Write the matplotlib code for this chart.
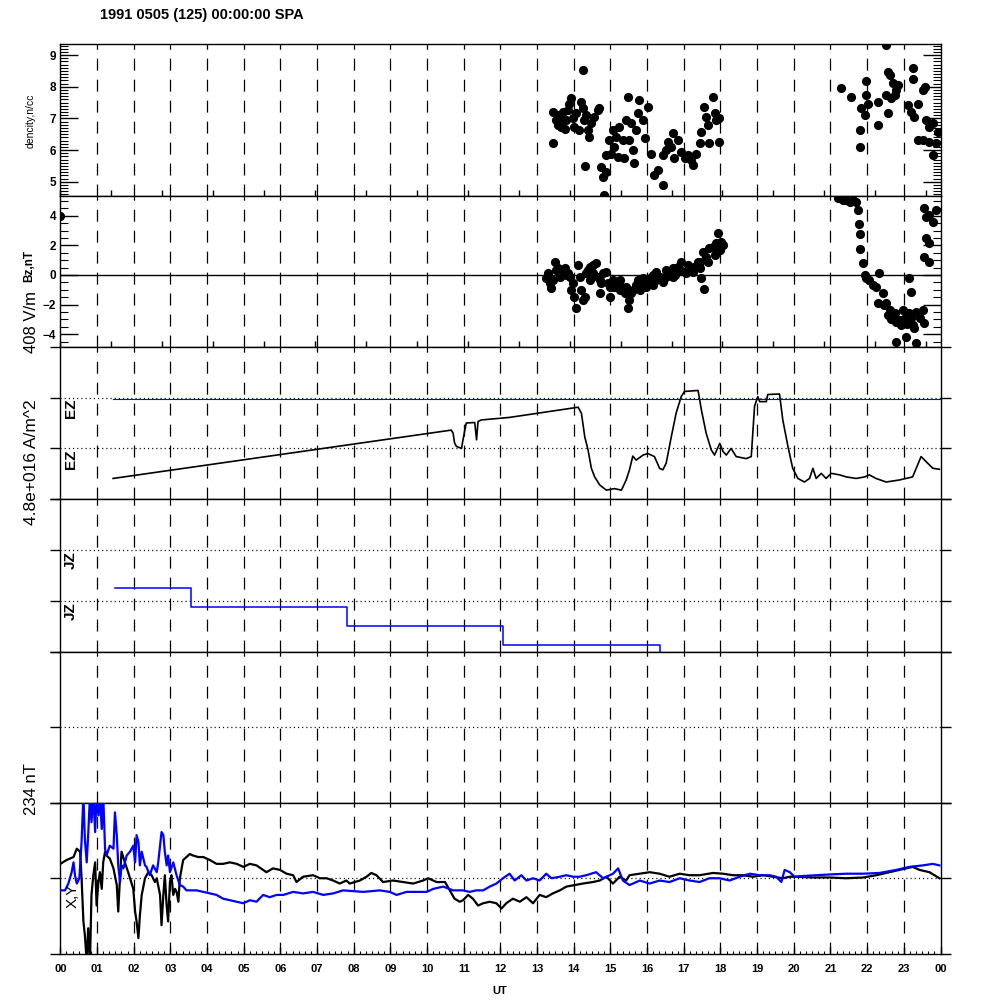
import matplotlib
matplotlib.use("Agg")
import matplotlib.pyplot as plt
from matplotlib.ticker import MultipleLocator, FixedLocator

plt.rcParams['font.family'] = ['Liberation Sans', 'DejaVu Sans']
plt.rcParams['lines.scale_dashes'] = False

# ---------------- data ----------------
title = "1991 0505 (125) 00:00:00 SPA"
hour_labels = ["00", "01", "02", "03", "04", "05", "06", "07", "08", "09", "10", "11",
               "12", "13", "14", "15", "16", "17", "18", "19", "20", "21", "22", "23", "00"]
hour_grid = list(range(1, 24))

dens_t = [13.43, 13.43, 13.52, 13.61, 13.66, 13.70, 13.79, 13.84, 13.88, 13.93,
          13.97, 14.02, 14.06, 14.15, 14.20, 14.24, 14.24, 14.29, 14.31, 14.34,
          14.38, 14.42, 14.47, 14.56, 14.65, 14.70, 13.56, 13.75, 13.66,
          14.74, 14.79, 14.83, 14.88, 14.88, 14.97, 15.01, 15.06, 15.10, 15.15,
          15.20, 15.24, 15.33, 15.38, 15.42, 15.47, 15.51, 15.56, 15.61, 15.65,
          15.70, 15.74, 15.79, 15.88, 15.93, 16.02, 16.11, 16.20, 16.29, 16.43,
          16.43, 16.52, 16.56, 16.65, 16.70, 16.74, 16.84, 16.93, 17.02, 17.11,
          17.20, 17.25, 17.34, 17.43, 17.47, 17.56, 17.61, 17.65, 17.70, 17.79,
          17.84, 17.88, 17.97, 17.97,
          21.30, 21.57, 21.80, 21.80, 21.84, 21.93, 21.98, 21.98, 22.02, 22.29,
          22.29, 22.52, 22.57, 22.57, 22.61, 22.52, 22.66, 22.70, 22.75, 22.79,
          22.84, 23.25, 23.25, 23.11, 23.20, 23.29, 23.38, 23.52, 23.57, 23.61,
          23.70, 23.79, 23.38, 23.52, 23.70, 23.79, 23.88, 23.93]
dens_v = [6.21, 7.21, 6.95, 7.10, 6.74, 7.21, 6.95, 7.26, 7.47, 7.63,
          7.00, 6.74, 7.16, 6.63, 7.53, 7.32, 8.53, 6.95, 5.49, 7.10,
          6.63, 6.42, 6.84, 7.05, 7.26, 7.32, 6.79, 6.68, 7.00,
          5.47, 5.16, 4.58, 5.32, 5.84, 6.32, 5.89, 6.63, 6.10, 6.42,
          5.79, 6.74, 6.32, 5.74, 6.95, 7.68, 6.32, 6.84, 6.00, 5.58,
          6.63, 7.16, 7.58, 6.95, 6.37, 7.37, 5.89, 5.21, 5.37, 4.89,
          5.84, 6.00, 6.26, 6.10, 6.53, 5.74, 6.32, 5.95, 5.74, 5.84,
          5.68, 5.53, 5.89, 6.21, 6.58, 7.37, 7.05, 6.79, 6.21, 7.68,
          7.16, 6.95, 7.00, 6.26,
          7.95, 7.68, 6.63, 6.10, 7.32, 7.10, 7.74, 8.19, 7.47, 6.79,
          7.53, 9.32, 7.16, 8.47, 8.37, 7.74, 7.63, 8.11, 7.74, 7.89,
          8.05, 8.58, 8.26, 7.42, 7.21, 7.05, 7.47, 7.89, 8.00, 6.95,
          6.74, 6.84, 6.32, 6.32, 6.26, 5.84, 6.21, 6.58]

bz_t = [13.25, 13.30, 13.34, 13.39, 13.43, 13.48, 13.52, 13.57, 13.62, 13.66,
        13.75, 13.80, 13.84, 13.89, 13.93, 13.98, 14.02, 14.07, 14.12, 14.16,
        14.21, 14.25, 14.30, 14.34, 14.39, 14.43, 14.43, 14.52, 14.52, 14.61,
        14.66, 14.71, 14.71, 14.75, 14.80, 14.89, 14.93, 14.98, 14.98, 15.07,
        15.11, 15.16, 15.25, 15.25, 15.30, 15.39, 15.43, 15.48, 15.52, 15.57,
        15.61, 15.70, 15.75, 15.80, 15.84, 15.89, 15.98, 15.98, 16.07, 16.16,
        16.16, 16.25, 16.25, 16.34, 16.43, 16.52, 16.52, 16.61, 16.70, 16.70,
        16.75, 16.84, 16.89, 16.93, 17.02, 17.07, 17.11, 17.20, 17.25, 17.29,
        17.39, 17.43, 17.43, 17.48, 17.54, 17.52, 17.61, 17.66, 17.70, 17.79,
        17.84, 17.89, 17.93, 17.98, 18.02, 18.07,
        0.0, 21.20, 21.25, 21.34, 21.43, 21.52, 21.61, 21.70, 21.74, 21.79,
        21.81, 21.81, 21.88, 21.93, 21.97, 22.06, 22.15, 22.24, 22.33, 22.29,
        22.43, 22.52, 22.56, 22.61, 22.70, 22.79, 22.79, 22.88, 22.97, 23.06,
        23.06, 23.15, 23.20, 23.15, 23.24, 23.33, 23.33, 23.43, 23.52, 23.56,
        23.56, 23.61, 23.70, 23.79, 23.88, 23.61, 23.70, 23.56, 23.70, 22.47,
        22.65, 22.75, 22.92, 23.00, 23.10, 23.20, 23.28]
bz_v = [-0.23, 0.11, -0.56, -0.90, -0.34, 0.90, 0.34, 0.45, -0.11, 0.34,
        0.45, 0.0, 0.11, -0.11, -1.01, -0.56, -1.46, -2.25, 0.68, -0.11,
        -1.01, -1.69, -1.46, 0.11, 0.34, 0.56, -0.34, 0.68, 0.11, 0.79,
        -0.11, -1.24, -0.34, -0.56, 0.11, 0.23, -0.56, -1.46, -0.79, -0.34,
        -0.79, -0.56, -1.01, -0.34, -0.79, -1.24, -0.79, -2.25, -1.69, -1.24,
        -1.01, -0.68, -0.34, -1.01, -0.56, -0.23, -0.45, -0.79, -0.23, 0.0,
        -0.68, 0.23, -0.34, -0.11, -0.45, -0.11, 0.34, 0.11, 0.45, -0.11,
        0.0, 0.56, 0.34, 0.90, 0.23, 0.11, 0.68, 0.34, 0.23, 0.56,
        0.90, 0.45, 0.90, -0.23, -0.95, 1.58, 1.24, 0.90, 1.80, 1.91,
        1.35, 2.14, 2.82, 1.69, 2.25, 2.03,
        4.0, 5.18, 5.18, 5.07, 5.07, 4.96, 5.07, 4.96, 4.40, 3.45,
        2.78, 1.75, 0.83, 0.0, -0.23, -0.34, -0.68, -0.79, 0.11, -1.92,
        -1.24, -1.92, -2.70, -2.37, -2.82, -3.16, -4.50, -3.05, -2.37, -2.82,
        -4.17, -0.23, -1.12, -2.60, -3.38, -2.48, -4.62, -2.93, -2.37, -3.27,
        4.52, 3.90, 4.07, 3.61, 4.40, 2.48, 2.14, 1.24, 0.90, -2.0,
        -3.0, -2.6, -3.4, -3.0, -3.3, -2.9, -3.6]

ez_t = [1.44, 10.66, 10.71, 10.75, 10.80, 10.94, 10.98, 11.03, 11.07, 11.30,
        11.35, 11.39, 11.48, 12.25, 14.12, 14.21, 14.30, 14.39, 14.48, 14.57,
        14.71, 14.89, 15.11, 15.30, 15.43, 15.52, 15.61, 15.70, 15.89, 16.02,
        16.20, 16.34, 16.43, 16.52, 16.66, 16.79, 16.93, 17.02, 17.39, 17.48,
        17.61, 17.75, 17.84, 17.98, 18.07, 18.16, 18.29, 18.43, 18.70, 18.84,
        18.93, 19.02, 19.07, 19.25, 19.29, 19.61, 19.70, 19.84, 19.97, 20.11,
        20.29, 20.43, 20.52, 20.61, 20.75, 20.88, 21.02, 21.25, 21.43, 21.70,
        21.93, 22.06, 22.24, 22.52, 22.88, 23.24, 23.47, 23.65, 23.79, 23.97]
ez_v = [0.41, 1.36, 1.30, 1.11, 1.04, 1.00, 1.17, 1.36, 1.50, 1.51,
        1.17, 1.53, 1.56, 1.61, 1.81, 1.69, 1.23, 0.97, 0.61, 0.44,
        0.28, 0.18, 0.21, 0.18, 0.38, 0.58, 0.85, 0.77, 0.87, 0.90,
        0.84, 0.61, 0.58, 0.71, 1.23, 1.69, 2.02, 2.12, 2.14, 1.76,
        1.30, 0.97, 0.87, 1.10, 0.94, 0.87, 1.00, 0.84, 0.80, 0.84,
        1.83, 2.02, 1.92, 1.92, 2.06, 2.07, 1.56, 1.04, 0.61, 0.41,
        0.34, 0.41, 0.61, 0.41, 0.51, 0.41, 0.51, 0.48, 0.44, 0.41,
        0.44, 0.48, 0.41, 0.34, 0.38, 0.44, 0.84, 0.71, 0.61, 0.59]
ez_ref_t = [1.44, 24.0]
ez_ref_v = [1.98, 1.98]

jz_t = [1.49, 3.56, 7.81, 12.06, 16.34]
jz_v = [1.25, 0.88, 0.51, 0.13, -0.3]

x_t = [0.0, 0.17, 0.36, 0.45, 0.54, 0.58, 0.63, 0.67, 0.72, 0.76,
       0.81, 0.85, 0.90, 0.95, 0.99, 1.04, 1.08, 1.13, 1.17, 1.22,
       1.26, 1.35, 1.45, 1.54, 1.58, 1.63, 1.67, 1.76, 1.85, 1.90,
       1.99, 2.04, 2.08, 2.13, 2.17, 2.22, 2.31, 2.40, 2.49, 2.58,
       2.63, 2.72, 2.76, 2.81, 2.85, 2.90, 2.94, 2.99, 3.03, 3.08,
       3.13, 3.17, 3.22, 3.26, 3.31, 3.35, 3.44, 3.53, 3.62, 3.76,
       3.90, 4.08, 4.26, 4.44, 4.62, 4.81, 4.99, 5.17, 5.35, 5.62,
       5.80, 5.99, 6.17, 6.35, 6.44, 6.62, 6.89, 7.08, 7.26, 7.44,
       7.62, 7.80,
       7.89, 8.17, 8.35, 8.48, 8.62, 8.80, 9.07, 9.35, 9.62, 9.89,
       10.03, 10.26, 10.49, 10.62, 10.75, 10.89, 10.98, 11.12, 11.25, 11.39,
       11.53, 11.71, 11.89, 12.03, 12.16, 12.34, 12.53, 12.71, 12.89, 13.07,
       13.25, 13.43, 13.62, 13.80, 14.03, 14.25, 14.52, 14.71, 14.89, 15.07,
       15.25, 15.43,
       15.52, 15.80, 16.07, 16.34, 16.61, 16.89, 17.16, 17.43, 17.80, 18.07,
       18.34, 18.61, 18.89, 19.16, 19.43, 19.70, 19.89, 20.07, 20.52, 20.98,
       21.43, 21.89, 22.25, 22.61, 22.89, 23.24, 23.43, 23.70, 23.97]
x_v = [0.19, 0.24, 0.28, 0.39, 0.35, 0.0, -0.57, -0.75, -1.1, -0.66,
       -1.1, -0.22, 0.04, 0.21, -0.36, -0.05, 0.08, -0.14, 0.21, 0.35,
       0.30, 0.26, 0.13, -0.09, -0.44, 0.04, 0.35, 0.21, 0.08, 0.0,
       -0.14, -0.44, -0.57, -0.79, -0.49, -0.22, 0.0, 0.08, 0.04, -0.05,
       0.0, -0.22, -0.62, -0.22, 0.04, -0.36, -0.57, -0.05, 0.04, -0.22,
       -0.14, -0.18, -0.31, 0.0, 0.13, 0.24, 0.28, 0.32, 0.30, 0.28,
       0.28, 0.24, 0.19, 0.19, 0.21, 0.19, 0.15, 0.19, 0.17, 0.08,
       0.13, 0.11, 0.06, 0.04, -0.05, 0.02, 0.04, 0.0, 0.0, -0.03,
       -0.07, -0.03,
       -0.07, -0.03, 0.02, 0.07, 0.04, -0.05, -0.03, -0.05, -0.07, -0.03,
       0.0, -0.05, -0.05, -0.16, -0.27, -0.31, -0.29, -0.22, -0.27, -0.36,
       -0.33, -0.31, -0.33, -0.40, -0.33, -0.27, -0.31, -0.25, -0.33, -0.22,
       -0.25, -0.20, -0.16, -0.11, -0.09, -0.07, -0.05, -0.03, 0.02, -0.07,
       0.02, -0.03,
       0.04, 0.06, 0.08, 0.06, 0.02, 0.06, 0.04, 0.04, 0.07, 0.06,
       0.04, 0.04, 0.02, 0.04, 0.02, 0.0, 0.02, 0.02, 0.01, 0.01,
       0.0, 0.01, 0.04, 0.08, 0.11, 0.15, 0.11, 0.08, 0.0]

y_t = [0.0, 0.13, 0.22, 0.31, 0.36, 0.40, 0.45, 0.52, 0.58, 0.63,
       0.67, 0.72, 0.76, 0.81, 0.85, 0.90, 0.95, 0.99, 1.04, 1.08,
       1.13, 1.17, 1.22, 1.26, 1.35, 1.45, 1.49, 1.54, 1.58, 1.63,
       1.67, 1.72, 1.81, 1.90, 1.99, 2.04, 2.08, 2.13, 2.17, 2.22,
       2.31, 2.35, 2.44, 2.53, 2.63, 2.67, 2.72, 2.76, 2.81, 2.85,
       2.90, 2.94, 2.99, 3.08, 3.17, 3.26, 3.35, 3.44, 3.53, 3.72,
       3.90, 4.08, 4.26, 4.44, 4.62, 4.81, 4.99, 5.17, 5.35, 5.53,
       5.71, 5.90, 6.08, 6.35, 6.62, 6.89, 7.17, 7.44, 7.71,
       8.26, 8.71, 8.98, 9.17, 9.44, 9.72, 9.99, 10.17, 10.44, 10.71,
       10.98, 11.16, 11.34, 11.53, 11.71, 11.89, 12.07, 12.25, 12.39, 12.57,
       12.71, 12.89, 13.07, 13.25, 13.39, 13.62, 13.80, 13.98, 14.16, 14.34,
       14.61, 14.80, 15.07, 15.21, 15.34,
       15.52, 15.80, 16.07, 16.34, 16.61, 16.89, 17.16, 17.43, 17.70, 17.98,
       18.25, 18.52, 18.80, 19.07, 19.34, 19.52, 19.66, 19.75, 19.89, 20.02,
       20.25, 20.61, 20.98, 21.43, 21.89, 22.34, 22.79, 23.15, 23.52, 23.79,
       23.97]
y_v = [-0.16, -0.16, -0.07, 0.08, 0.21, 0.04, -0.07, 0.0, 0.48, 1.1,
       0.52, 0.21, 0.57, 1.1, 0.74, 1.1, 0.61, 1.1, 0.83, 1.1,
       0.65, 1.1, 0.39, 0.30, 0.43, 0.39, 0.87, 0.57, 0.17, -0.05,
       0.17, 0.13, 0.30, 0.35, 0.43, 0.21, 0.57, 0.48, 0.17, 0.35,
       0.17, 0.15, 0.04, 0.17, 0.08, 0.21, 0.43, 0.61, 0.57, 0.35,
       0.17, 0.30, 0.08, 0.21, 0.04, -0.09, -0.11, -0.16, -0.16, -0.16,
       -0.18, -0.20, -0.22, -0.27, -0.29, -0.31, -0.33, -0.29, -0.31, -0.22,
       -0.25, -0.22, -0.22, -0.18, -0.20, -0.18, -0.22, -0.20, -0.16,
       -0.18, -0.16, -0.18, -0.22, -0.18, -0.18, -0.18, -0.14, -0.11, -0.16,
       -0.16, -0.18, -0.16, -0.16, -0.11, -0.07, 0.0, 0.06, -0.03, 0.04,
       -0.03, 0.0, -0.03, 0.06, 0.0, 0.02, 0.04, 0.02, 0.02, 0.04,
       0.08, 0.0, 0.06, 0.13, -0.03,
       -0.09, -0.03, -0.07, -0.03, -0.05, 0.0, -0.03, -0.05, 0.0, 0.0,
       -0.03, 0.02, 0.06, 0.04, 0.04, 0.02, -0.05, 0.11, 0.08, 0.02,
       0.03, 0.04, 0.05, 0.06, 0.06, 0.07, 0.11, 0.15, 0.17, 0.19,
       0.17]

# ---------------- layout ----------------
fig = plt.figure(figsize=(10, 10), dpi=100)
L, R = 60.3, 940.5
edges = [44.3, 195.7, 346.7, 499.3, 651.5, 802.5, 954.0]


def px_axes(top, bot):
    return fig.add_axes([L / 1000, 1 - bot / 1000, (R - L) / 1000, (bot - top) / 1000])


axes = [px_axes(edges[i], edges[i + 1]) for i in range(6)]
ax_n, ax_b, ax_e, ax_j, ax_m, ax_xy = axes

DASH = (8.6, 6.5)
DOT = (0.8, 2.2)
for ax in axes:
    ax.set_xlim(0, 24)
    for s in ax.spines.values():
        s.set_linewidth(1.0)
        s.set_color('black')
    for h in hour_grid:
        ax.axvline(h, color='black', lw=0.9, dashes=DASH, zorder=0.5)

# density panel
ax_n.plot(dens_t, dens_v, 'o', color='black', ms=6.6, mew=0, zorder=3)
ax_n.set_ylim(4.56, 9.34)
ax_n.yaxis.set_major_locator(MultipleLocator(1))
ax_n.yaxis.set_minor_locator(MultipleLocator(0.1))
ax_n.tick_params(axis='y', which='major', direction='in', length=13, width=1,
                 left=True, right=True, pad=3)
ax_n.tick_params(axis='y', which='minor', direction='in', length=6, width=0.8,
                 left=True, right=True)

# Bz panel
ax_b.plot(bz_t, bz_v, 'o', color='black', ms=6.6, mew=0, zorder=3)
ax_b.axhline(0, color='black', lw=1.0, zorder=2)
ax_b.set_ylim(-4.85, 5.36)
ax_b.yaxis.set_major_locator(MultipleLocator(2))
ax_b.yaxis.set_minor_locator(MultipleLocator(0.5))
ax_b.tick_params(axis='y', which='major', direction='in', length=13, width=1,
                 left=True, right=True, pad=3)
ax_b.tick_params(axis='y', which='minor', direction='in', length=6, width=0.8,
                 left=True, right=True)

for ax in (ax_n, ax_b):
    ax.xaxis.set_major_locator(MultipleLocator(25 / 18))
    ax.tick_params(axis='x', which='major', direction='in', length=4, width=1,
                   bottom=True, top=False, labelbottom=False)
    for lab in ax.get_yticklabels():
        lab.set_fontsize(8.5)
        lab.set_fontweight('bold')

# EZ panel
ax_e.set_ylim(0, 3)
ax_e.plot(ez_ref_t, ez_ref_v, color='blue', lw=0.8, zorder=3)
ax_e.plot(ez_t, ez_v, color='black', lw=1.2, zorder=4)
# JZ panel
ax_j.set_ylim(0, 3)
ax_j.plot(jz_t, jz_v, color='blue', lw=1.1, drawstyle='steps-post', zorder=3)
# empty panel
ax_m.set_ylim(0, 2)
# XY panel
ax_xy.set_ylim(-1, 1)
ax_xy.plot(x_t, x_v, color='black', lw=1.6, zorder=3)
ax_xy.plot(y_t, y_v, color='blue', lw=1.6, zorder=3)

for ax, levels in ((ax_e, [1, 2]), (ax_j, [1, 2]), (ax_m, [1]), (ax_xy, [0])):
    for lv in levels:
        ax.axhline(lv, color='black', lw=0.9, dashes=DOT, zorder=2)
    lo, hi = ax.get_ylim()
    ax.yaxis.set_major_locator(FixedLocator([lo] + levels + [hi]))
    ax.tick_params(axis='y', which='major', direction='out', length=7, width=1,
                   left=True, right=True, labelleft=False)

for ax in (ax_e, ax_j, ax_m):
    ax.tick_params(axis='x', which='both', bottom=False, top=False, labelbottom=False)

ax_xy.xaxis.set_major_locator(FixedLocator(list(range(25))))
ax_xy.xaxis.set_minor_locator(MultipleLocator(1 / 6))
ax_xy.set_xticklabels(hour_labels)
ax_xy.tick_params(axis='x', which='major', direction='in', length=5, width=1,
                  bottom=True, top=False, pad=7, labelsize=8)
ax_xy.tick_params(axis='x', which='minor', direction='in', length=2.5, width=0.8,
                  bottom=True, top=False)
for lab in ax_xy.get_xticklabels():
    lab.set_fontweight('bold')

# panel-internal labels
for ax, name in ((ax_e, 'EZ'), (ax_j, 'JZ')):
    for lv in (2, 1):
        ax.text(0.012, lv - 0.02, name, transform=ax.get_yaxis_transform(),
                rotation=90, ha='center', va='top', fontsize=11, fontweight='bold')
ax_xy.text(0.014, -0.07, 'X,Y', transform=ax_xy.get_yaxis_transform(),
           rotation=90, ha='center', va='top', fontsize=11)


def ftext(x, y, s, **kw):
    fig.text(x / 1000, 1 - y / 1000, s, **kw)


ftext(100, 15, title, fontsize=10.5, fontweight='bold', va='center', ha='left')
ftext(31, 121, 'dencity,n/cc', rotation=90, fontsize=7.5, ha='center', va='center')
ftext(29, 266, 'Bz,nT', rotation=90, fontsize=8.5, fontweight='bold', ha='center', va='center')
ftext(32, 322, '408 V/m', rotation=90, fontsize=12, ha='center', va='center')
ftext(32, 462, '4.8e+016 A/m^2', rotation=90, fontsize=12.5, ha='center', va='center')
ftext(32, 789, '234 nT', rotation=90, fontsize=12, ha='center', va='center')
ftext(500, 991, 'UT', fontsize=8, fontweight='bold', ha='center', va='center')

fig.savefig('out.png', dpi=100)
